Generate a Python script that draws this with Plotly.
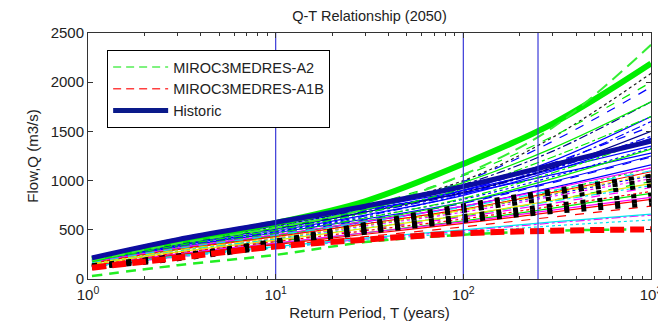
import plotly.graph_objects as go

T = [1.05, 3, 10, 30, 100, 300, 1000]

historic = [215, 400, 575, 740, 940, 1160, 1400]
a2_thick = [200, 390, 570, 790, 1170, 1580, 2190]
a2_upper = [190, 360, 520, 710, 1060, 1540, 2380]
a2_lower = [30, 140, 245, 375, 450, 490, 505]
a1b_lower = [115, 215, 330, 400, 465, 490, 505]

thin_blue = [
    [205, 385, 555, 720, 900, 1110, 1350],
    [195, 370, 535, 700, 890, 1130, 1420],
    [190, 360, 520, 690, 900, 1180, 1550],
    [200, 375, 540, 705, 870, 1060, 1280],
    [185, 350, 505, 670, 870, 1120, 1450],
    [180, 340, 490, 650, 850, 1100, 1430],
    [175, 330, 475, 625, 810, 1040, 1330],
    [170, 320, 460, 600, 770, 980, 1240],
    [165, 310, 445, 580, 740, 930, 1160],
    [180, 335, 480, 640, 860, 1160, 1600],
    [175, 325, 470, 610, 780, 990, 1250],
    [160, 300, 430, 560, 700, 860, 1050],
    [190, 360, 520, 700, 990, 1400, 1950],
    [185, 350, 510, 680, 900, 1200, 1650],
]
thin_navy = [
    [195, 370, 540, 720, 960, 1300, 1800],
    [185, 355, 515, 680, 880, 1130, 1500],
]
thin_black = [
    [200, 375, 545, 730, 1000, 1440, 2090],
]
thin_green = [
    [195, 370, 540, 740, 1050, 1450, 2000],
    [190, 360, 520, 705, 980, 1330, 1800],
    [180, 340, 495, 670, 920, 1240, 1650],
    [160, 300, 440, 590, 780, 1020, 1320],
    [150, 280, 410, 545, 700, 890, 1130],
    [140, 260, 380, 500, 640, 800, 990],
    [130, 250, 360, 470, 590, 720, 870],
    [170, 320, 465, 620, 820, 1080, 1420],
]
thin_magenta = [
    [170, 315, 450, 585, 740, 920, 1130],
    [155, 290, 415, 540, 680, 840, 1020],
    [145, 270, 390, 505, 630, 770, 930],
    [135, 255, 365, 470, 580, 700, 830],
    [120, 225, 320, 405, 490, 570, 650],
]
thin_red = [
    [160, 300, 430, 560, 710, 880, 1090],
    [140, 265, 380, 490, 610, 740, 890],
    [125, 235, 335, 430, 530, 630, 740],
    [130, 245, 350, 455, 565, 680, 810],
]
thin_cyan = [
    [150, 285, 405, 520, 650, 790, 950],
    [125, 235, 330, 415, 500, 580, 660],
    [120, 225, 315, 395, 470, 540, 600],
    [165, 310, 445, 580, 730, 900, 1100],
]
thin_yellow = [
    [145, 275, 395, 515, 650, 800, 970],
    [155, 295, 420, 550, 700, 870, 1060],
]
black_dashed = [
    [115, 200, 330, 470, 590, 680, 760],
    [125, 215, 350, 500, 640, 750, 860],
    [130, 225, 370, 530, 690, 820, 950],
    [140, 240, 390, 560, 750, 900, 1050],
    [135, 235, 380, 545, 720, 870, 1000],
    [120, 210, 340, 485, 610, 710, 800],
]
vline_T = [10, 100, 250]

x_tickvals = [1, 10, 100, 1000]
x_ticktext = ["10<sup>0</sup>", "10<sup>1</sup>", "10<sup>2</sup>", "10<sup>3</sup>"]
y_tickvals = [0, 500, 1000, 1500, 2000, 2500]
x_minor = [2, 3, 4, 5, 6, 7, 8, 9, 20, 30, 40, 50, 60, 70, 80, 90,
           200, 300, 400, 500, 600, 700, 800, 900]

fig = go.Figure()

groups = [
    (thin_blue, "#0000ff"), (thin_navy, "#00008b"), (thin_black, "#202020"),
    (thin_green, "#00ee00"), (thin_magenta, "#ff00ff"), (thin_red, "#ff0000"),
    (thin_cyan, "#00e5ee"), (thin_yellow, "#e6e600"),
]
dashes = ["solid", "dot", "dash", "solid", "dashdot"]
k = 0
for lines, col in groups:
    for ys in lines:
        fig.add_trace(go.Scatter(x=T, y=ys, mode="lines", showlegend=False,
                                 line=dict(color=col, width=1.2, shape="spline",
                                           dash=dashes[k % len(dashes)]),
                                 hoverinfo="skip"))
        k += 1

for ys in black_dashed:
    fig.add_trace(go.Scatter(x=T, y=ys, mode="lines", showlegend=False,
                             line=dict(color="black", width=4, dash="5px,12px", shape="spline"),
                             hoverinfo="skip"))

fig.add_trace(go.Scatter(x=T, y=a2_thick, mode="lines", showlegend=False,
                         line=dict(color="#00ee00", width=6, shape="spline")))
fig.add_trace(go.Scatter(x=T, y=a2_upper, mode="lines", showlegend=False,
                         line=dict(color="#33ee33", width=2, dash="13px,7px", shape="spline")))
fig.add_trace(go.Scatter(x=T, y=a2_lower, mode="lines", showlegend=False,
                         line=dict(color="#22ee22", width=2.5, dash="10px,7px", shape="spline")))
fig.add_trace(go.Scatter(x=T, y=a1b_lower, mode="lines", showlegend=False,
                         line=dict(color="#ff0000", width=6, dash="14px,6px", shape="spline")))
fig.add_trace(go.Scatter(x=T, y=historic, mode="lines", showlegend=False,
                         line=dict(color="#0c0ca0", width=5, shape="spline")))

for tv in vline_T:
    fig.add_trace(go.Scatter(x=[tv, tv], y=[0, 2500], mode="lines", showlegend=False,
                             line=dict(color="#3a3ad8", width=1.2), hoverinfo="skip"))

# legend entries
fig.add_trace(go.Scatter(x=[None], y=[None], mode="lines", name="MIROC3MEDRES-A2",
                         line=dict(color="#55ee55", width=1.5, dash="8px,5px")))
fig.add_trace(go.Scatter(x=[None], y=[None], mode="lines", name="MIROC3MEDRES-A1B",
                         line=dict(color="#ff4040", width=1.5, dash="8px,5px")))
fig.add_trace(go.Scatter(x=[None], y=[None], mode="lines", name="Historic",
                         line=dict(color="#0a1a8a", width=5)))

font = "Arial, Liberation Sans, sans-serif"
fig.update_layout(
    width=658, height=328,
    margin=dict(l=88, r=7, t=33, b=49),
    paper_bgcolor="white", plot_bgcolor="white",
    font=dict(family=font, size=15, color="#222"),
    title=dict(text="Q-T Relationship (2050)", x=(88 + 651) / 2 / 658, xanchor="center",
               y=1 - 16 / 328, yanchor="middle", font=dict(size=14.5, color="#222")),
    showlegend=True,
    legend=dict(x=0.034, y=0.931, xanchor="left", yanchor="top",
                bgcolor="white", bordercolor="black", borderwidth=1,
                font=dict(size=14.5, color="#222"), itemwidth=55,
                tracegroupgap=0),
)
fig.update_xaxes(type="log", range=[0, 3], tickvals=x_tickvals, ticktext=x_ticktext,
                 ticks="inside", ticklen=5, tickcolor="#333", showline=True,
                 linecolor="#333", linewidth=1, mirror="allticks", showgrid=False,
                 zeroline=False, tickfont=dict(size=15), ticklabeloverflow="allow",
                 ticklabelstandoff=2,
                 minor=dict(tickvals=x_minor, ticks="inside", ticklen=3, tickcolor="#333",
                            showgrid=False),
                 automargin="height",
                 title=dict(text="Return Period, T (years)", font=dict(size=15), standoff=5))
fig.update_yaxes(range=[0, 2500], tickvals=y_tickvals, ticks="inside", ticklen=5,
                 tickcolor="#333", showline=True, linecolor="#333", linewidth=1,
                 mirror="allticks", showgrid=False, zeroline=False, tickfont=dict(size=15),
                 automargin="width",
                 title=dict(text="Flow,Q (m3/s)", font=dict(size=15), standoff=8))

fig.write_html("out.html")
